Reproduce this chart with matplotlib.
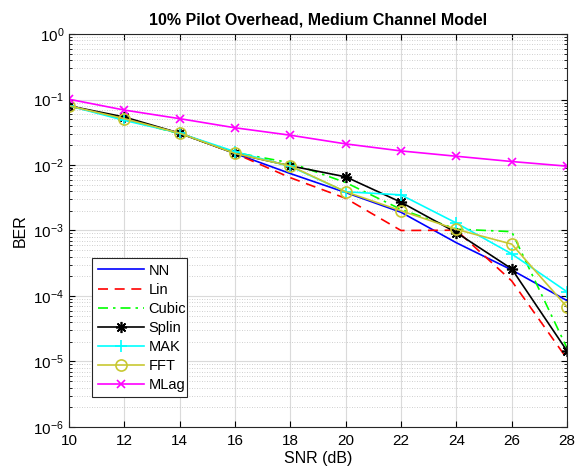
#!/usr/bin/env python3
# BER vs SNR curves for several channel interpolation methods (log scale).

import matplotlib
matplotlib.use("Agg")
import matplotlib.pyplot as plt
from matplotlib.ticker import FixedLocator, NullFormatter

plt.rcParams["font.family"] = ["Liberation Sans", "DejaVu Sans"]
plt.rcParams["mathtext.fontset"] = "custom"
plt.rcParams["mathtext.rm"] = "Liberation Sans"
plt.rcParams["mathtext.it"] = "Liberation Sans:italic"

snr = [10, 12, 14, 16, 18, 20, 22, 24, 26, 28]

ber_nn = [0.080, 0.051, 0.0306, 0.0150, 0.0074, 0.0038, 0.0019, 0.00065, 0.00025, 8.5e-5]
ber_lin = [0.080, 0.051, 0.0306, 0.0150, 0.0064, 0.0031, 0.0010, 0.00101, 0.00017, 1.1e-5]
ber_cubic = [0.080, 0.050, 0.0300, 0.0155, 0.0108, 0.0054, 0.0021, 0.00105, 0.00096, 1.6e-5]
ber_splin = [0.080, 0.054, 0.0306, 0.0150, 0.0097, 0.0066, 0.0027, 0.00093, 0.00026, 1.45e-5]
ber_mak = [0.080, 0.048, 0.0306, 0.0160, 0.0095, 0.0039, 0.0035, 0.0013, 0.00044, 0.000116]
ber_fft = [0.080, 0.051, 0.0306, 0.0150, 0.0097, 0.0039, 0.0020, 0.00104, 0.00062, 6.8e-5]
ber_mlag = [0.101, 0.069, 0.051, 0.037, 0.0285, 0.021, 0.0164, 0.0136, 0.0113, 0.0096]

decades = [-6, -5, -4, -3, -2, -1, 0]

series = [
    ("NN", ber_nn, dict(color="#0000ff", linestyle="-")),
    ("Lin", ber_lin, dict(color="#ff0000", linestyle=(0, (6, 4)))),
    ("Cubic", ber_cubic, dict(color="#00ff00", linestyle=(0, (6, 3, 1.5, 3)))),
    ("Splin", ber_splin, dict(color="#000000", linestyle="-", marker=(8, 2, 0), markersize=8)),
    ("MAK", ber_mak, dict(color="#00ffff", linestyle="-", marker="+", markersize=9)),
    ("FFT", ber_fft, dict(color="#c8c832", linestyle="-", marker="o", markersize=8,
                          markerfacecolor="none")),
    ("MLag", ber_mlag, dict(color="#ff00ff", linestyle="-", marker="x", markersize=6)),
]

fig = plt.figure(figsize=(5.76, 4.73), dpi=100)
ax = fig.add_axes([0.1198, 0.0973, 0.8646, 0.8308])

for name, vals, style in series:
    ax.semilogy(snr, vals, linewidth=1.2, markeredgewidth=1.2, label=name, **style)

ax.set_xlim(10, 28)
ax.set_ylim(1e-6, 1)
ax.set_xticks(range(10, 29, 2))
ax.set_yticks([10.0 ** d for d in decades], [f"$10^{{{d}}}$" for d in decades])
minor = [m * 10.0 ** d for d in decades[:-1] for m in range(2, 10)]
ax.yaxis.set_minor_locator(FixedLocator(minor))
ax.yaxis.set_minor_formatter(NullFormatter())

ax.grid(True, which="major", color="#dadada", linewidth=0.8)
ax.grid(True, which="minor", axis="y", color="#c0c0c0", linestyle=(0, (1, 2)), linewidth=0.6)
ax.set_axisbelow(True)

ax.tick_params(which="both", direction="in", top=True, right=True, labelsize=11)
ax.tick_params(axis="x", pad=5)
ax.tick_params(which="minor", length=2)
ax.tick_params(which="major", length=4)
for s in ax.spines.values():
    s.set_linewidth(0.8)
    s.set_color("#262626")

ax.set_xlabel("SNR (dB)", fontsize=11.5, labelpad=2)
ax.set_ylabel("BER", fontsize=11.5, labelpad=4)
ax.set_title("10% Pilot Overhead, Medium Channel Model", fontsize=11.5,
             fontweight="bold", pad=7)

leg = ax.legend(loc="lower left", bbox_to_anchor=(0.047, 0.0756, 0.189, 0.344),
                mode="expand", fontsize=10.5, fancybox=False, framealpha=1,
                edgecolor="#262626", borderaxespad=0, handlelength=3.2,
                labelspacing=0.35, handletextpad=0.3, borderpad=0.35)
leg.get_frame().set_linewidth(0.8)

fig.savefig("out.png", dpi=100)
